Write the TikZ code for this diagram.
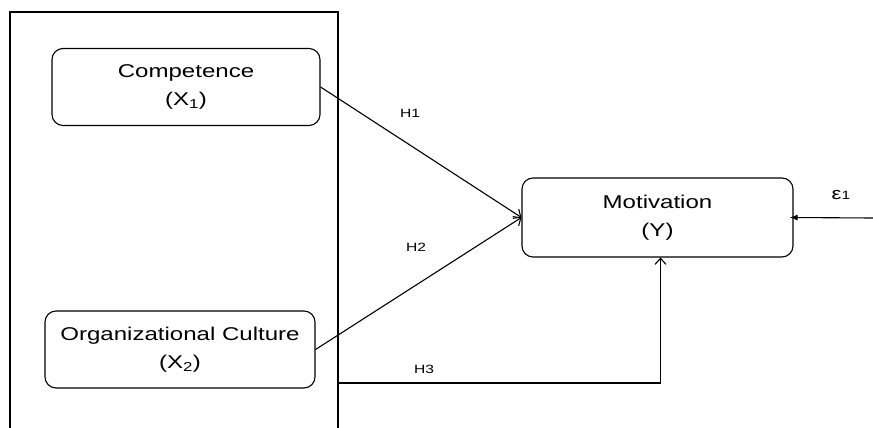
\documentclass[tikz,border=0pt]{standalone}
\usepackage{fontspec}
\setmainfont{Liberation Sans}[FakeStretch=1.3]
\usetikzlibrary{arrows.meta,positioning}
\tikzset{
  >={Straight Barb[length=6pt,width=11pt]},
  block/.style={draw,rounded corners=11pt,align=center,inner sep=0pt,
    minimum width=268pt,minimum height=77pt,line width=1.1pt,
    font=\fontsize{18.5}{28}\selectfont},
  arrow/.style={->,line width=1.1pt},
  hyp/.style={font=\fontsize{12}{14}\selectfont},
}

\begin{document}
\begin{tikzpicture}[x=1pt,y=-1pt,line width=1.1pt]
  \useasboundingbox (0,0) rectangle (873,428);
  % frame round the two predictors
  \draw (10,440) -- (10,12) -- (338,12) -- (338,440);
  \coordinate (h3from) at (338,383);
  \coordinate (errfrom) at (873,218);

  \node[block] (comp) at (186,87) {Competence\\(X\textsubscript{1})};
  \node[block,minimum width=270pt] (org) at (180,349.5) {Organizational Culture\\(X\textsubscript{2})};
  \node[block,minimum width=271pt,minimum height=79pt] (motiv) at (657.5,217.5) {Motivation\\(Y)};

  \draw[arrow] (comp.east) -- (motiv.west);
  \draw[arrow] (org.east) -- (motiv.west);
  \draw[arrow] (h3from) -| ([xshift=3pt]motiv.south);
  \draw[-{Latex[length=8pt,width=6pt]}] (errfrom) -- ([xshift=-4pt]motiv.east);

  \node[hyp] (h1) at (410,113) {H1};
  \node[hyp] (h2) at (416,247) {H2};
  \node[hyp] (h3) at (424,369) {H3};
  \node[hyp] (eps) at (841,195) {{\fontsize{17}{14}\selectfont ε}1};
\end{tikzpicture}
\end{document}
